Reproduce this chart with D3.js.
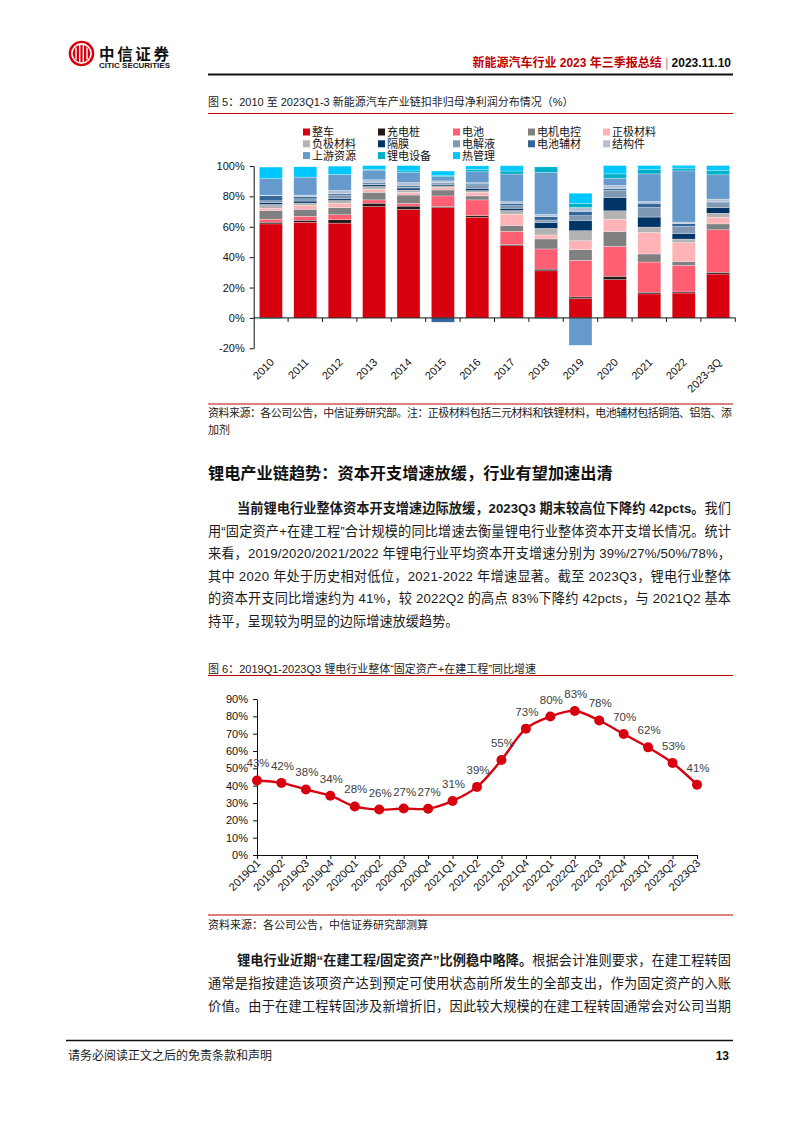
<!DOCTYPE html>
<html lang="zh">
<head>
<meta charset="UTF-8">
<title>新能源汽车行业 2023 年三季报总结</title>
<script src="https://cdn.jsdelivr.net/npm/d3@7"></script>
<style>
  * { margin: 0; padding: 0; }
  body { background: #fff; }
  svg text { font-family: "Liberation Sans", Arial, "Noto Sans CJK SC", sans-serif; }
</style>
</head>
<body>
<script>
// ---------- 图5 数据（%）----------
const years = ["2010", "2011", "2012", "2013", "2014", "2015", "2016", "2017", "2018", "2019", "2020", "2021", "2022", "2023-3Q"];
const zhengche   = [61.9, 63.0, 62.4, 73.3, 71.4, 72.6, 66.3, 47.5, 31.0, 12.7, 25.2, 15.8, 16.4, 28.9];
const chongdian  = [1.1, 1.3, 2.2, 2.2, 2.2, 0.7, 1.1, 0.7, 1.1, 1.1, 2.2, 1.1, 0.7, 1.1];
const dianchi    = [2.0, 2.6, 3.3, 2.2, 1.8, 7.0, 10.3, 8.8, 13.3, 24.1, 19.7, 19.9, 17.5, 28.0];
const dianji     = [5.7, 4.6, 4.8, 5.0, 5.5, 3.9, 2.6, 3.9, 6.6, 7.0, 9.8, 5.3, 2.6, 3.9];
const zhengji    = [1.5, 2.6, 2.8, 2.0, 1.8, 1.5, 2.4, 7.4, 2.6, 5.9, 8.1, 14.2, 12.3, 4.4];
const fuji       = [2.5, 1.5, 1.8, 1.8, 1.5, 1.2, 1.1, 2.4, 4.4, 6.6, 5.5, 3.5, 2.4, 2.6];
const gemo       = [1.1, 1.3, 1.1, 1.1, 1.3, 1.0, 1.5, 1.5, 3.7, 6.8, 8.8, 6.6, 3.5, 3.7];
const dianjieye  = [1.3, 1.5, 2.5, 0.6, 0.5, 1.0, 1.7, 1.7, 1.7, 3.1, 4.6, 6.3, 4.8, 3.3];
const fucai      = [3.3, 1.5, 0.8, 0.9, 0.9, -2.8, 1.1, 1.5, 2.2, 2.8, 1.1, 2.8, 1.8, 0.5];
const jiegoujian = [0.4, 1.0, 2.2, 1.8, 2.2, 1.3, 0.9, 1.1, 1.5, 2.6, 2.2, 1.1, 1.1, 1.8];
const shangyou   = [10.9, 11.8, 10.5, 6.4, 6.6, 2.8, 7.2, 18.2, 27.6, -18.0, 4.8, 18.2, 33.7, 16.0];
const shebei     = [-0.5, 0, 0, 0.6, 1.1, 0.6, 1.5, 2.0, 3.7, 2.8, 2.8, 3.1, 1.8, 2.8];
const reguanli   = [7.6, 6.8, 5.5, 2.4, 3.5, 3.1, 2.4, 3.5, -0.5, 6.6, 5.5, 2.4, 1.8, 3.3];

const seriesNames = ["整车", "充电桩", "电池", "电机电控", "正极材料", "负极材料", "隔膜", "电解液", "电池辅材", "结构件", "上游资源", "锂电设备", "热管理"];
const seriesValues = [zhengche, chongdian, dianchi, dianji, zhengji, fuji, gemo, dianjieye, fucai, jiegoujian, shangyou, shebei, reguanli];
const seriesColors = ["#d7000f", "#231815", "#ff5f73", "#808080", "#ffb3b6", "#b3b3b3", "#003366", "#7f99b2", "#336699", "#b3c1d6", "#6699cc", "#00b0c8", "#00c8ff"];
const yTicks1 = [-20, 0, 20, 40, 60, 80, 100];

// ---------- 图6 数据（%）----------
const quarters = ["2019Q1", "2019Q2", "2019Q3", "2019Q4", "2020Q1", "2020Q2", "2020Q3", "2020Q4", "2021Q1", "2021Q2", "2021Q3", "2021Q4", "2022Q1", "2022Q2", "2022Q3", "2022Q4", "2023Q1", "2023Q2", "2023Q3"];
const growth = [43.0, 41.6, 37.8, 34.2, 28.0, 26.2, 26.8, 26.7, 31.2, 39.3, 54.8, 72.9, 79.9, 83.1, 77.6, 69.8, 62.1, 53.1, 40.6];
const yTicks2 = [0, 10, 20, 30, 40, 50, 60, 70, 80, 90];

const W = 794, H = 1123;
const RED = "#c00000";
const svg = d3.select("body").append("svg").attr("width", W).attr("height", H);
svg.append("rect").attr("width", W).attr("height", H).attr("fill", "#fff");

// 一行文字：parts = [[文本, 是否加粗], ...]，full 为 true 时两端对齐
function textLine(x, y, parts, size, width) {
    const t = svg.append("text").attr("x", x).attr("y", y)
        .attr("font-size", size).attr("fill", "#1a1a1a");
    parts.forEach(([s, b]) => t.append("tspan").text(s).attr("font-weight", b ? "bold" : null));
    if (width) t.attr("textLength", width).attr("lengthAdjust", "spacing");
    return t;
}

// ---------- 页眉 ----------
const logo = svg.append("g").attr("transform", "translate(81.5,53.5)");
logo.append("circle").attr("r", 12.8).attr("fill", "#d7000f");
logo.append("circle").attr("r", 9.6).attr("fill", "none").attr("stroke", "#fff").attr("stroke-width", 1.6);
[-5.5, -1.8, 1.8, 5.5].forEach((dx, i) => {
    logo.append("line").attr("x1", dx).attr("x2", dx)
        .attr("y1", i % 3 === 0 ? -6 : -8.5).attr("y2", i % 3 === 0 ? 6 : 8.5)
        .attr("stroke", "#fff").attr("stroke-width", 1.4);
});
svg.append("text").attr("x", 99).attr("y", 59.5).attr("font-size", 15.5).attr("font-weight", "bold")
    .attr("fill", "#111").attr("textLength", 70).text("中信证券");
svg.append("text").attr("x", 99).attr("y", 67.8).attr("font-size", 7.2).attr("font-weight", "bold")
    .attr("fill", "#111").attr("textLength", 71).attr("lengthAdjust", "spacingAndGlyphs").text("CITIC SECURITIES");

const head = svg.append("text").attr("x", 731).attr("y", 67).attr("text-anchor", "end")
    .attr("font-size", 12).attr("font-weight", "bold");
head.append("tspan").attr("fill", RED).text("新能源汽车行业 2023 年三季报总结");
head.append("tspan").attr("fill", "#888").attr("font-weight", "normal").text(" | ");
head.append("tspan").attr("fill", "#111").text("2023.11.10");
svg.append("line").attr("x1", 208).attr("x2", 733).attr("y1", 74.5).attr("y2", 74.5)
    .attr("stroke", "#111").attr("stroke-width", 2);

// ---------- 图5 ----------
svg.append("text").attr("x", 208).attr("y", 106).attr("font-size", 11).attr("fill", "#222")
    .text("图 5：2010 至 2023Q1-3 新能源汽车产业链扣非归母净利润分布情况（%）");
svg.append("line").attr("x1", 208).attr("x2", 733).attr("y1", 113.5).attr("y2", 113.5)
    .attr("stroke", RED).attr("stroke-width", 1);

// 图例
const legend = svg.append("g").selectAll("g")
    .data(seriesNames)
    .join("g")
    .attr("transform", (d, i) => `translate(${303 + (i % 5) * 75},${132 + Math.floor(i / 5) * 11.8})`);
legend.append("rect").attr("x", 0).attr("y", -3.5).attr("width", 7).attr("height", 7)
    .attr("fill", (d, i) => seriesColors[i]);
legend.append("text").attr("x", 9).attr("dy", "0.36em").attr("font-size", 11).attr("fill", "#111")
    .text(d => d);

const x1 = d3.scaleBand().domain(years).range([253.7, 735.3]).paddingInner(0.33).paddingOuter(0.165);
const y1 = d3.scaleLinear().domain([-20, 100]).range([348.3, 166]);

const table = years.map((yr, j) => {
    const row = { year: yr };
    seriesNames.forEach((n, i) => { row[n] = seriesValues[i][j]; });
    return row;
});
const stacked = d3.stack().keys(seriesNames).offset(d3.stackOffsetDiverging)(table);

svg.append("g").selectAll("g")
    .data(stacked)
    .join("g")
    .attr("fill", (d, i) => seriesColors[i])
    .selectAll("rect")
    .data(d => d.filter(s => s[0] !== s[1]))
    .join("rect")
    .attr("x", d => x1(d.data.year))
    .attr("width", x1.bandwidth())
    .attr("y", d => y1(Math.max(d[0], d[1])))
    .attr("height", d => Math.abs(y1(d[0]) - y1(d[1])))
    .attr("stroke", "#fff").attr("stroke-width", 0.5).attr("stroke-opacity", 0.55);

// y 轴
svg.append("g").attr("transform", "translate(253.7,0)")
    .call(d3.axisLeft(y1).tickValues(yTicks1).tickFormat(d => d + "%").tickSize(4).tickSizeOuter(0).tickPadding(5))
    .call(g => g.selectAll("text").attr("font-size", 11).attr("fill", "#111"))
    .call(g => g.selectAll("line,path").attr("stroke", "#111"));

// x 轴（0 线，刻度位于分类之间）
const step1 = x1.step();
svg.append("line").attr("x1", 253.7).attr("x2", 735.3).attr("y1", y1(0)).attr("y2", y1(0))
    .attr("stroke", "#111").attr("stroke-width", 1);
svg.append("g").selectAll("line")
    .data(years)
    .join("line")
    .attr("x1", (d, i) => 253.7 + (i + 1) * step1)
    .attr("x2", (d, i) => 253.7 + (i + 1) * step1)
    .attr("y1", y1(0)).attr("y2", y1(0) + 4)
    .attr("stroke", "#111");
svg.append("g").selectAll("text")
    .data(years)
    .join("text")
    .attr("transform", d => `translate(${x1(d) + x1.bandwidth() / 2 + 4},363) rotate(-45)`)
    .attr("text-anchor", "end").attr("font-size", 11).attr("fill", "#111")
    .text(d => d);

svg.append("line").attr("x1", 208).attr("x2", 733).attr("y1", 404).attr("y2", 404)
    .attr("stroke", RED).attr("stroke-width", 1);
textLine(208, 417, [["资料来源：各公司公告，中信证券研究部。注：正极材料包括三元材料和铁锂材料，电池辅材包括铜箔、铝箔、添", false]], 11, 524);
textLine(208, 434, [["加剂", false]], 11);

// ---------- 正文 1 ----------
svg.append("text").attr("x", 208).attr("y", 479).attr("font-size", 16.2).attr("font-weight", "bold")
    .attr("fill", "#111").text("锂电产业链趋势：资本开支增速放缓，行业有望加速出清");

const para1 = [
    [237, [["当前锂电行业整体资本开支增速边际放缓，2023Q3 期末较高位下降约 42pcts。", true], ["我们", false]], true],
    [208, [["用“固定资产+在建工程”合计规模的同比增速去衡量锂电行业整体资本开支增长情况。统计", false]], true],
    [208, [["来看，2019/2020/2021/2022 年锂电行业平均资本开支增速分别为 39%/27%/50%/78%，", false]], true],
    [208, [["其中 2020 年处于历史相对低位，2021-2022 年增速显著。截至 2023Q3，锂电行业整体", false]], true],
    [208, [["的资本开支同比增速约为 41%，较 2022Q2 的高点 83%下降约 42pcts，与 2021Q2 基本", false]], true],
    [208, [["持平，呈现较为明显的边际增速放缓趋势。", false]], false]
];
para1.forEach(([x, parts, full], i) => textLine(x, 513 + i * 22.6, parts, 13.2, full ? 731 - x : null));

// ---------- 图6 ----------
svg.append("text").attr("x", 208).attr("y", 673).attr("font-size", 11).attr("fill", "#222")
    .text("图 6：2019Q1-2023Q3 锂电行业整体“固定资产+在建工程”同比增速");
svg.append("line").attr("x1", 208).attr("x2", 733).attr("y1", 675.5).attr("y2", 675.5)
    .attr("stroke", RED).attr("stroke-width", 1);

const x2 = d3.scalePoint().domain(quarters).range([257, 697]);
const y2 = d3.scaleLinear().domain([0, 90]).range([855, 699]);

svg.append("g").attr("transform", "translate(257,0)")
    .call(d3.axisLeft(y2).tickValues(yTicks2).tickFormat(d => d + "%").tickSize(4).tickSizeOuter(0).tickPadding(5))
    .call(g => g.selectAll("text").attr("font-size", 11).attr("fill", "#111"))
    .call(g => g.selectAll("line,path").attr("stroke", "#111"));
svg.append("g").attr("transform", "translate(0,855)")
    .call(d3.axisBottom(x2).tickSize(4).tickSizeOuter(0).tickFormat(""))
    .call(g => g.selectAll("line,path").attr("stroke", "#111"));
svg.append("g").selectAll("text")
    .data(quarters)
    .join("text")
    .attr("transform", d => `translate(${x2(d) + 4},864) rotate(-45)`)
    .attr("text-anchor", "end").attr("font-size", 11).attr("fill", "#111")
    .text(d => d);

const pts = quarters.map((q, i) => ({ q, v: growth[i] }));
svg.append("path").datum(pts)
    .attr("fill", "none").attr("stroke", "#d7000f").attr("stroke-width", 2.4)
    .attr("d", d3.line().x(d => x2(d.q)).y(d => y2(d.v)).curve(d3.curveCatmullRom.alpha(0.5)));
svg.append("g").selectAll("circle")
    .data(pts)
    .join("circle")
    .attr("cx", d => x2(d.q)).attr("cy", d => y2(d.v)).attr("r", 5)
    .attr("fill", "#d7000f");
svg.append("g").selectAll("text")
    .data(pts)
    .join("text")
    .attr("x", d => x2(d.q) + 1).attr("y", d => y2(d.v) - 13)
    .attr("text-anchor", "middle").attr("font-size", 11.5).attr("fill", "#404040")
    .text(d => Math.round(d.v) + "%");

svg.append("line").attr("x1", 208).attr("x2", 733).attr("y1", 915).attr("y2", 915)
    .attr("stroke", RED).attr("stroke-width", 1);
textLine(208, 929, [["资料来源：各公司公告，中信证券研究部测算", false]], 11);

// ---------- 正文 2 ----------
const para2 = [
    [237, [["锂电行业近期“在建工程/固定资产”比例稳中略降。", true], ["根据会计准则要求，在建工程转固", false]], true],
    [208, [["通常是指按建造该项资产达到预定可使用状态前所发生的全部支出，作为固定资产的入账", false]], true],
    [208, [["价值。由于在建工程转固涉及新增折旧，因此较大规模的在建工程转固通常会对公司当期", false]], true]
];
para2.forEach(([x, parts, full], i) => textLine(x, 965 + i * 23.2, parts, 13.2, full ? 731 - x : null));

// ---------- 页脚 ----------
svg.append("line").attr("x1", 66).attr("x2", 733).attr("y1", 1040.5).attr("y2", 1040.5)
    .attr("stroke", "#111").attr("stroke-width", 1.5);
textLine(68, 1060, [["请务必阅读正文之后的免责条款和声明", false]], 12);
svg.append("text").attr("x", 729).attr("y", 1060).attr("text-anchor", "end")
    .attr("font-size", 12).attr("font-weight", "bold").attr("fill", "#111").text("13");
</script>
</body>
</html>
